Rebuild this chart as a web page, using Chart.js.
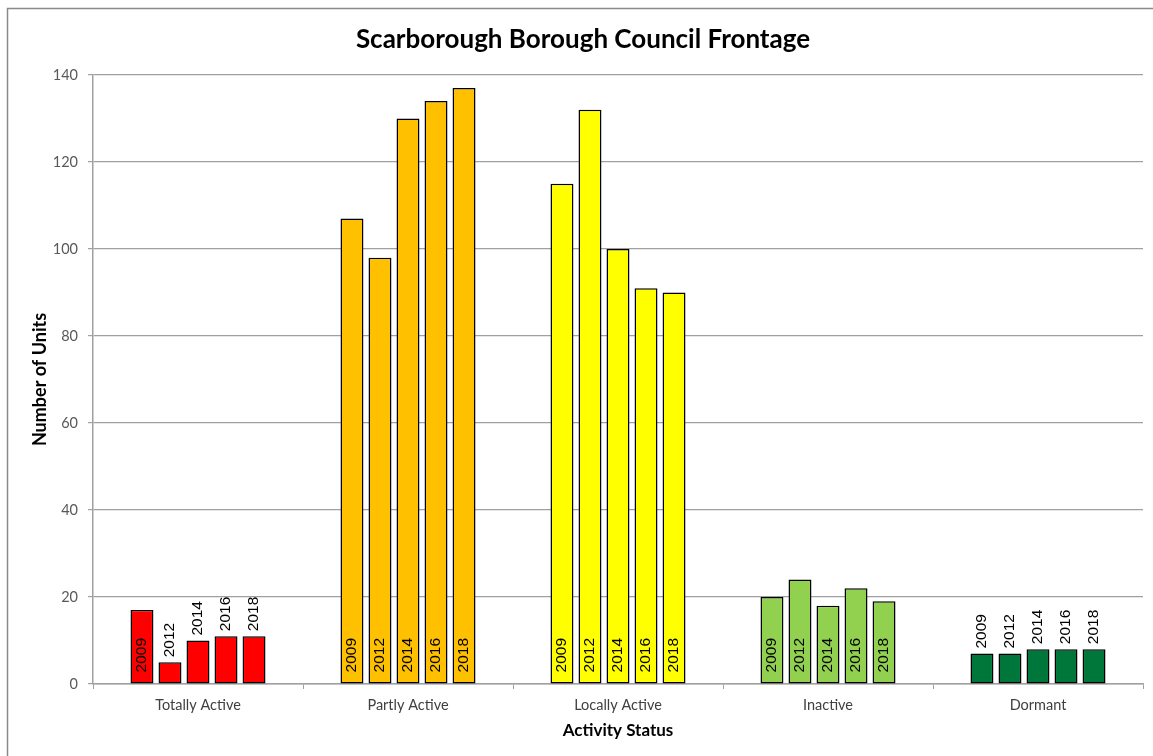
<!DOCTYPE html>
<html>
<head>
<meta charset="utf-8">
<script src="https://cdn.jsdelivr.net/npm/chart.js@4.4.1/dist/chart.umd.min.js"></script>
<style>
  html, body { margin: 0; padding: 0; background: #ffffff; overflow: hidden; }
  #wrap { position: absolute; left: 0; top: 0; width: 1153px; height: 756px; }
</style>
</head>
<body>
<div id="wrap"><canvas id="c" width="1153" height="756"></canvas></div>
<script>
const categories = ['Totally Active', 'Partly Active', 'Locally Active', 'Inactive', 'Dormant'];
const years = ['2009', '2012', '2014', '2016', '2018'];
const values2009 = [17, 107, 115, 20, 7];
const values2012 = [5, 98, 132, 24, 7];
const values2014 = [10, 130, 100, 18, 8];
const values2016 = [11, 134, 91, 22, 8];
const values2018 = [11, 137, 90, 19, 8];
const yTicks = [0, 20, 40, 60, 80, 100, 120, 140];
const categoryColors = ['#FF0000', '#FFC000', '#FFFF00', '#92D050', '#00773A'];

const seriesValues = [values2009, values2012, values2014, values2016, values2018];

const FONT = 'Lato, "Open Sans", sans-serif';

const borderPlugin = {
  id: 'frameBorder',
  beforeDraw(chart) {
    const ctx = chart.ctx;
    ctx.save();
    ctx.fillStyle = '#ffffff';
    ctx.fillRect(0, 0, chart.width, chart.height);
    ctx.strokeStyle = '#8a8a8a';
    ctx.lineWidth = 1.5;
    ctx.strokeRect(7.5, 8.5, 2000, 2000);
    ctx.restore();
  }
};

const yearLabelPlugin = {
  id: 'yearLabels',
  afterDatasetsDraw(chart) {
    const ctx = chart.ctx;
    ctx.save();
    ctx.font = '15.5px "Liberation Sans", Arial, sans-serif';
    ctx.fillStyle = '#000000';
    ctx.textBaseline = 'middle';
    ctx.textAlign = 'left';
    chart.data.datasets.forEach((ds, di) => {
      const meta = chart.getDatasetMeta(di);
      meta.data.forEach((bar) => {
        const text = ds.label;
        const tw = ctx.measureText(text).width;
        const h = bar.base - bar.y;
        let startY;
        if (h >= tw + 18) {
          startY = bar.base - 11;
        } else {
          startY = bar.y - 5;
        }
        ctx.save();
        ctx.translate(bar.x, startY);
        ctx.rotate(-Math.PI / 2);
        ctx.fillText(text, 0, 0);
        ctx.restore();
      });
    });
    ctx.restore();
  }
};

const datasets = years.map((y, i) => ({
  label: y,
  data: seriesValues[i],
  backgroundColor: categoryColors,
  borderColor: '#000000',
  borderWidth: 1.5,
  borderSkipped: false,
  barPercentage: 0.82,
  categoryPercentage: 0.667
}));

new Chart(document.getElementById('c'), {
  type: 'bar',
  data: { labels: categories, datasets: datasets },
  plugins: [borderPlugin, yearLabelPlugin],
  options: {
    responsive: false,
    animation: false,
    layout: { padding: { left: 23, right: 10, top: 0, bottom: 0 } },
    plugins: {
      legend: { display: false },
      tooltip: { enabled: false },
      title: {
        display: true,
        text: 'Scarborough Borough Council Frontage',
        color: '#000000',
        font: { family: FONT, size: 26, weight: 'bold' },
        padding: { top: 24.4, bottom: 19.4 }
      }
    },
    scales: {
      x: {
        offset: true,
        grid: { display: true, drawOnChartArea: false, offset: true, tickLength: 5, color: '#A0A0A0', lineWidth: 1 },
        border: { color: '#A0A0A0', width: 1.5 },
        ticks: { color: '#404040', font: { family: FONT, size: 14.5 }, padding: 8, maxRotation: 0, autoSkip: false },
        title: {
          display: true,
          text: 'Activity Status',
          color: '#000000',
          font: { family: FONT, size: 17, weight: 'bold' },
          padding: { top: 0, bottom: 14.8 }
        },
        afterFit(scale) { scale.height = 72; }
      },
      y: {
        min: 0,
        max: 140,
        afterBuildTicks(scale) { scale.ticks = yTicks.map(v => ({ value: v })); },
        grid: { color: '#A0A0A0', lineWidth: 1.2, tickLength: 5 },
        border: { color: '#A0A0A0', width: 1.5 },
        ticks: { color: '#595959', font: { family: FONT, size: 14.5 }, padding: 10 },
        title: {
          display: true,
          text: 'Number of Units',
          color: '#000000',
          font: { family: FONT, size: 18, weight: 'bold' },
          padding: { top: 6.2, bottom: 0 }
        },
        afterFit(scale) { scale.width = 70; }
      }
    }
  }
});
</script>
</body>
</html>
